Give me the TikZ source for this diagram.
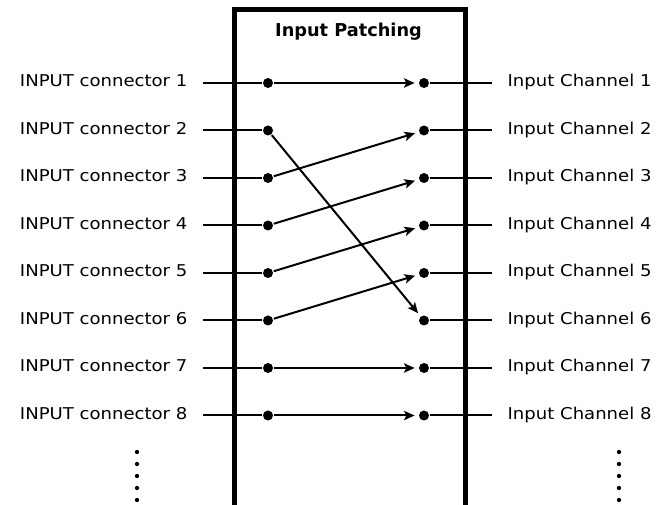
\documentclass[tikz,border=0pt]{standalone}
\usepackage{fontspec}
\setmainfont{DejaVu Sans}
\newfontfamily\lblfont[FakeStretch=1.11]{DejaVu Sans}
\usetikzlibrary{arrows.meta}
\begin{document}
\begin{tikzpicture}[x=0.75pt,y=-0.75pt,line width=1.5pt,>={Stealth[length=8pt,width=7pt,inset=1.8pt]},
  pin/.style={circle,fill,inner sep=0pt,minimum size=7.5pt},
  lbl/.style={font=\lblfont\fontsize{12.2}{14}\selectfont,text height=9pt,text depth=3pt,inner ysep=0pt,inner xsep=11pt}]
\useasboundingbox (0,0) rectangle (661,505);
% patch frame
\draw[line width=3.75pt] (234,505) -- (234,10) -- (465,10) -- (465,505);
\node[font=\bfseries\fontsize{13.3}{16}\selectfont,anchor=base] (title) at (348.5,36.5) {Input Patching};
% connectors and channels
\foreach \i in {1,...,8} {
  \pgfmathsetmacro\y{83+47.5*(\i-1)}
  \node[lbl,anchor=east] (in\i) at (203,\y) {INPUT connector \i};
  \node[lbl,anchor=west] (ch\i) at (492,\y) {Input Channel \i};
  \node[pin] (l\i) at (268,\y) {}; \node[pin] (r\i) at (424,\y) {};
  \draw (in\i) -- (l\i); \draw (r\i) -- (ch\i);
}
% patching
\foreach \a/\b in {1/1,2/6,3/2,4/3,5/4,6/5,7/7,8/8}
  \draw[->,shorten >=2.5pt] (l\a) -- (r\b);
% more rows
\foreach \k in {0,...,4} {
  \fill (137,{452+12*\k}) circle (1.6pt); \fill (619,{452+12*\k}) circle (1.6pt);
}
\end{tikzpicture}
\end{document}
